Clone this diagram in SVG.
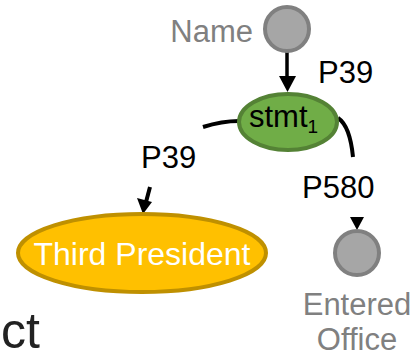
<svg xmlns="http://www.w3.org/2000/svg" width="418" height="358" viewBox="0 0 418 358">
<defs>
<style>
.lbl{font-family:"Liberation Sans",Arial,Helvetica,sans-serif;font-size:31px;fill:#000}
.gray{font-family:"Liberation Sans",Arial,Helvetica,sans-serif;font-size:31px;fill:#808080}
.ent{fill:#a6a6a6;stroke:#808080;stroke-width:4}
.edge{fill:none;stroke:#000;stroke-width:4;stroke-linecap:butt}
.head{fill:#000}
</style>
</defs>
<rect width="418" height="358" fill="#fff"/>
<g id="connectors">
<line class="edge" x1="287" y1="52" x2="287" y2="78" style="stroke-width:3.5"/>
<polygon class="head" points="279,76 296,76 287.5,92"/>
<path class="edge" d="M239,121 Q222,121 203,127"/>
<path class="edge" d="M150,187 L146,202"/>
<polygon class="head" points="137,198 152,202 143,214"/>
<path class="edge" d="M338,118 Q350,126 353,157"/>
<polygon class="head" points="350,217 364,217 357,230"/>
</g>
<g id="edge-labels">
<text class="lbl" x="318" y="83">P39</text>
<text class="lbl" x="141" y="168">P39</text>
<text class="lbl" x="302" y="198">P580</text>
</g>
<g id="name">
<circle class="ent" cx="287" cy="29" r="22"/>
<text class="gray" x="253" y="42" text-anchor="end">Name</text>
</g>
<g id="stmt1">
<ellipse cx="288" cy="122" rx="49" ry="28" fill="#70ad47" stroke="#548235" stroke-width="4"/>
<text class="lbl" x="249" y="127">stmt<tspan font-size="19" y="133">1</tspan></text>
</g>
<g id="third-president">
<ellipse cx="142" cy="253" rx="124" ry="39" fill="#ffc000" stroke="#bf9000" stroke-width="4"/>
<text class="lbl" x="142" y="265" text-anchor="middle" style="fill:#fff;font-size:32px">Third President</text>
</g>
<g id="entered-office">
<circle class="ent" cx="357" cy="253" r="22"/>
<text class="gray" x="357" y="315" text-anchor="middle">Entered</text>
<text class="gray" x="357" y="350" text-anchor="middle">Office</text>
</g>
<text x="40" y="348" text-anchor="end" style="font-family:'Liberation Sans',Arial,sans-serif;font-size:50px;fill:#222">ct</text>
</svg>
